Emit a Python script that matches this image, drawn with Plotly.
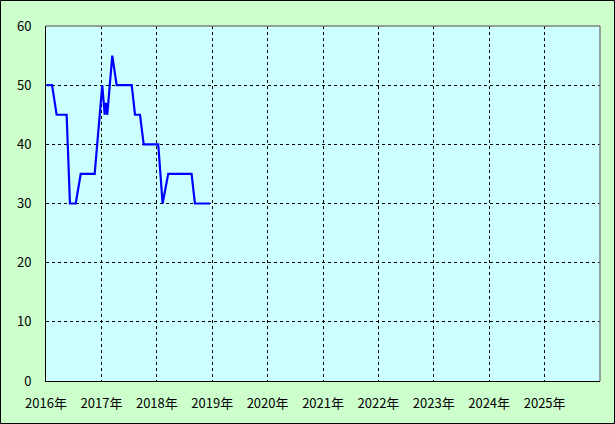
import plotly.graph_objects as go

dates = ["2016-01-04", "2016-02-10", "2016-03-11", "2016-05-16", "2016-06-07",
         "2016-07-15", "2016-08-17", "2016-11-17", "2017-01-06", "2017-01-22",
         "2017-01-30", "2017-02-08", "2017-03-13", "2017-04-11", "2017-07-19",
         "2017-08-10", "2017-09-12", "2017-10-06", "2018-01-10", "2018-02-08",
         "2018-03-17", "2018-08-18", "2018-09-09", "2018-12-17"]
values = [50, 50, 45, 45, 30, 30, 35, 35, 50, 45, 47, 45, 55, 50, 50,
          45, 45, 40, 40, 30, 35, 35, 30, 30]

years = list(range(2016, 2026))
tick_vals = [f"{y}-01-01" for y in years]
tick_text = [f"{y}年" for y in years]
y_ticks = [0, 10, 20, 30, 40, 50, 60]

W, H = 615, 424
L, R, T, B = 46, 15, 26, 43
pw, ph = W - L - R, H - T - B

fig = go.Figure()
fig.add_trace(go.Scatter(x=dates, y=values, mode="lines",
                         line=dict(color="#0000ff", width=2.2),
                         hoverinfo="skip", showlegend=False))

font = dict(family="Noto Sans CJK JP, sans-serif", size=13, color="#000000")

fig.update_layout(
    width=W, height=H,
    margin=dict(l=L, r=R, t=T, b=B, pad=0),
    paper_bgcolor="#ccffcc",
    plot_bgcolor="#ccffff",
    font=font,
    showlegend=False,
    xaxis=dict(
        type="date",
        range=["2016-01-01", "2026-01-01"],
        tickmode="array", tickvals=tick_vals, ticktext=tick_text,
        showgrid=True, gridcolor="#000000", gridwidth=1, griddash="3px,3px",
        showline=True, linecolor="#000000", linewidth=1,
        ticks="outside", ticklen=10, tickcolor="rgba(0,0,0,0)",
        zeroline=False, fixedrange=True,
    ),
    yaxis=dict(
        range=[0, 60],
        tickmode="array", tickvals=y_ticks,
        showgrid=True, gridcolor="#000000", gridwidth=1, griddash="3px,3px",
        showline=True, linecolor="#000000", linewidth=1,
        ticks="outside", ticklen=11, tickcolor="rgba(0,0,0,0)",
        zeroline=False, fixedrange=True,
    ),
    shapes=[
        dict(type="line", xref="paper", yref="paper", x0=0, x1=1, y0=1, y1=1,
             line=dict(color="#808080", width=1.5)),
        dict(type="line", xref="paper", yref="paper", x0=1, x1=1, y0=0, y1=1,
             line=dict(color="#808080", width=1.5)),
        dict(type="rect", xref="paper", yref="paper",
             x0=(0.5 - L) / pw, x1=(W - 0.5 - L) / pw,
             y0=-(B - 0.5) / ph, y1=(ph + T - 0.5) / ph,
             line=dict(color="#000000", width=1), fillcolor="rgba(0,0,0,0)",
             layer="above"),
    ],
)

fig.write_html("out.html", config={"displayModeBar": False},
               post_script="document.body.style.margin='0px';document.body.style.overflow='hidden';")
